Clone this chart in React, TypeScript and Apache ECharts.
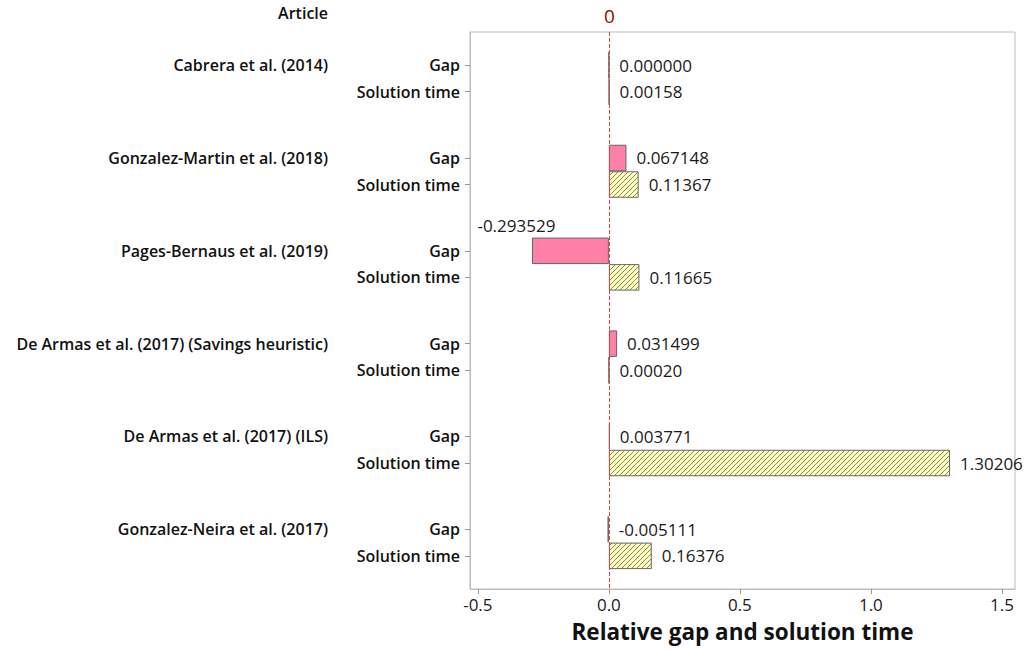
import React, { useEffect, useRef } from "react";
import * as echarts from "echarts";

const articles = [
  "Cabrera et al. (2014)",
  "Gonzalez-Martin et al. (2018)",
  "Pages-Bernaus et al. (2019)",
  "De Armas et al. (2017) (Savings heuristic)",
  "De Armas et al. (2017) (ILS)",
  "Gonzalez-Neira et al. (2017)",
];
const measures = ["Gap", "Solution time"];
const gapValues = [0.0, 0.067148, -0.293529, 0.031499, 0.003771, -0.005111];
const timeValues = [0.00158, 0.11367, 0.11665, 0.0002, 1.30206, 0.16376];
const xTicks = [-0.5, 0, 0.5, 1.0, 1.5];
const refValue = 0;

const FONT = "'Open Sans', 'Noto Sans', sans-serif";
const SLOTS = 7;
const GAP_SLOT = 2;
const TIME_SLOT = 4;

function makeHatch() {
  const s = 5;
  const c = document.createElement("canvas");
  c.width = s;
  c.height = s;
  const ctx = c.getContext("2d")!;
  ctx.fillStyle = "#FFFFC4";
  ctx.fillRect(0, 0, s, s);
  ctx.strokeStyle = "#8A8A56";
  ctx.lineWidth = 1;
  ctx.beginPath();
  ctx.moveTo(0, s);
  ctx.lineTo(s, 0);
  ctx.moveTo(-1, 1);
  ctx.lineTo(1, -1);
  ctx.moveTo(s - 1, s + 1);
  ctx.lineTo(s + 1, s - 1);
  ctx.stroke();
  return c;
}

export default function App() {
  const ref = useRef<HTMLDivElement>(null);

  useEffect(() => {
    document.body.style.margin = "0";
    if (!ref.current) return;
    const chart = echarts.init(ref.current, undefined, { renderer: "svg" });

    const slotIds: string[] = [];
    const axisText: string[] = [];
    const articleText: string[] = [];
    const gapData: any[] = [];
    const timeData: any[] = [];
    articles.forEach((a, g) => {
      for (let s = 0; s < SLOTS; s++) {
        slotIds.push(`r${g}-${s}`);
        axisText.push(s === GAP_SLOT ? measures[0] : s === TIME_SLOT ? measures[1] : "");
        articleText.push(s === GAP_SLOT ? a : "");
        if (s === GAP_SLOT) {
          const v = gapValues[g];
          gapData.push(
            v < -0.1
              ? { value: v, label: { position: "top", offset: [-54, 0], distance: 4 } }
              : v
          );
        } else gapData.push("-");
        timeData.push(s === TIME_SLOT ? timeValues[g] : "-");
      }
    });

    const labelStyle = {
      show: true,
      position: "right",
      distance: 10,
      fontSize: 17,
      color: "#1a1a1a",
      fontFamily: FONT,
    };

    chart.setOption({
      animation: false,
      textStyle: { fontFamily: FONT },
      grid: {
        left: 470,
        right: 9,
        top: 32,
        bottom: 61,
        show: true,
        borderColor: "#bdbdbd",
        borderWidth: 1,
        backgroundColor: "transparent",
      },
      graphic: [
        {
          type: "text",
          right: 696,
          top: 5,
          style: {
            text: "Article",
            font: `600 16px ${FONT}`,
            fill: "#111",
          },
        },
      ],
      xAxis: {
        type: "value",
        min: -0.53,
        max: 1.55,
        splitLine: { show: false },
        axisLine: { show: true, onZero: false, lineStyle: { color: "#bdbdbd" } },
        axisTick: { show: true, length: 5, customValues: xTicks, lineStyle: { color: "#999" } },
        axisLabel: {
          customValues: xTicks,
          formatter: (v: number) => v.toFixed(1),
          fontSize: 17,
          color: "#1a1a1a",
          margin: 7,
          fontFamily: FONT,
        },
        name: "Relative gap and solution time",
        nameLocation: "middle",
        nameGap: 31,
        nameTextStyle: { fontSize: 22.5, fontWeight: "bold", color: "#111", fontFamily: FONT },
      },
      yAxis: [
        {
          type: "category",
          data: slotIds,
          inverse: true,
          axisLine: { show: true, onZero: false, lineStyle: { color: "#bdbdbd" } },
          axisTick: {
            show: true,
            alignWithLabel: true,
            length: 5,
            interval: (i: number) => axisText[i] !== "",
            lineStyle: { color: "#999" },
          },
          axisLabel: {
            interval: 0,
            formatter: (_v: string, i: number) => axisText[i],
            fontSize: 16,
            fontWeight: 600,
            color: "#111",
            margin: 10,
            fontFamily: FONT,
          },
        },
        {
          type: "category",
          data: slotIds,
          inverse: true,
          position: "left",
          axisLine: { show: false, onZero: false },
          axisTick: { show: false },
          axisLabel: {
            interval: 0,
            formatter: (_v: string, i: number) => articleText[i],
            fontSize: 16,
            fontWeight: 600,
            color: "#111",
            margin: 142,
            fontFamily: FONT,
          },
        },
      ],
      series: [
        {
          name: measures[0],
          type: "bar",
          yAxisIndex: 0,
          data: gapData,
          barWidth: 26.5,
          barGap: "-100%",
          itemStyle: { color: "#FF80A6", borderColor: "#666", borderWidth: 1 },
          label: { ...labelStyle, formatter: (p: any) => Number(p.value).toFixed(6) },
        },
        {
          name: measures[1],
          type: "bar",
          yAxisIndex: 0,
          data: timeData,
          barWidth: 26.5,
          barGap: "-100%",
          itemStyle: {
            color: { image: makeHatch(), repeat: "repeat" },
            borderColor: "#666",
            borderWidth: 1,
          },
          label: { ...labelStyle, formatter: (p: any) => Number(p.value).toFixed(5) },
        },
        {
          name: "ref",
          type: "custom",
          yAxisIndex: 0,
          z: 10,
          silent: true,
          data: [[refValue, 0]],
          encode: { x: 0, y: 1 },
          renderItem: (params: any, api: any) => {
            const x = Math.round(api.coord([api.value(0), 0])[0]) + 0.5;
            const cs = params.coordSys;
            return {
              type: "group",
              children: [
                {
                  type: "line",
                  shape: { x1: x, y1: cs.y, x2: x, y2: cs.y + cs.height },
                  style: { stroke: "#E04048", lineWidth: 1, lineDash: [4, 2] },
                },
                {
                  type: "text",
                  x: x,
                  y: cs.y - 7,
                  style: {
                    text: String(refValue),
                    fill: "#A00000",
                    font: `19px ${FONT}`,
                    align: "center",
                    verticalAlign: "bottom",
                  },
                },
              ],
            };
          },
        },
      ],
    });

    return () => chart.dispose();
  }, []);

  return <div ref={ref} style={{ width: 1024, height: 650 }} />;
}
